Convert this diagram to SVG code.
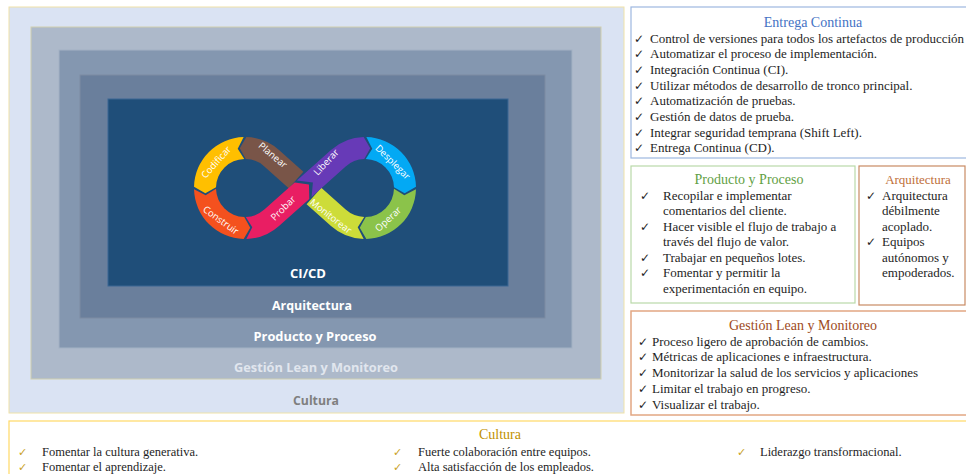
<svg xmlns="http://www.w3.org/2000/svg" width="966" height="474" viewBox="0 0 966 474">
  <style>
    .layer-label { font-family: "Open Sans", "Liberation Sans", sans-serif; font-weight: 700; font-size: 12.5px; text-anchor: middle; }
    .seg-label { font-family: "Open Sans", "Liberation Sans", sans-serif; font-size: 9.5px; fill: #ffffff; text-anchor: middle; dominant-baseline: central; }
    .txt { font-family: "Liberation Serif", "Times New Roman", serif; font-size: 13px; fill: #1e1e1e; }
    .title { font-family: "Liberation Serif", "Times New Roman", serif; font-size: 14px; text-anchor: middle; }
    .chk { font-family: "DejaVu Sans", sans-serif; font-size: 12px; fill: #1e1e1e; }
    .chk-gold { font-family: "DejaVu Sans", sans-serif; font-size: 11px; fill: #c9a227; }
    .foot { font-family: "Liberation Serif", "Times New Roman", serif; font-size: 12.5px; fill: #1e1e1e; }
  </style>

  <rect width="966" height="474" fill="#ffffff"/>

  <!-- Nested capability layers -->
  <g id="layer-cultura">
    <rect x="9" y="7" width="615" height="406" fill="#dae3f3" stroke="#efe2a8" stroke-width="1"/>
    <text class="layer-label" x="316" y="404.5" fill="#7f7f7f" textLength="46" lengthAdjust="spacingAndGlyphs">Cultura</text>
  </g>
  <g id="layer-gestion">
    <rect x="31" y="27" width="570" height="352" fill="#adb9ca" stroke="#cfcfb0" stroke-width="1"/>
    <text class="layer-label" x="316" y="371.5" fill="#e1e6ee" textLength="164" lengthAdjust="spacingAndGlyphs">Gestión Lean y Monitoreo</text>
  </g>
  <g id="layer-producto">
    <rect x="59" y="50" width="513" height="298" fill="#8497b0" stroke="#a3b2c4" stroke-width="1"/>
    <text class="layer-label" x="315" y="340.5" fill="#ffffff" textLength="123" lengthAdjust="spacingAndGlyphs">Producto y Proceso</text>
  </g>
  <g id="layer-arquitectura">
    <rect x="80" y="75" width="465" height="243" fill="#6a7f9c" stroke="#7d8ca2" stroke-width="1"/>
    <text class="layer-label" x="312" y="309.5" fill="#ffffff" textLength="80" lengthAdjust="spacingAndGlyphs">Arquitectura</text>
  </g>
  <g id="layer-cicd">
    <rect x="108" y="99" width="400" height="187" fill="#1f4e79" stroke="#3a6794" stroke-width="1"/>
    <text class="layer-label" x="308" y="277.5" fill="#ffffff" textLength="36" lengthAdjust="spacingAndGlyphs">CI/CD</text>
  </g>

  <!-- DevOps infinity loop: eight chevron segments -->
  <g id="devops-loop">
    <g id="seg-planear">
      <path d="M303.39,171.80 L279.0,149.99 A51,51 0 0 0 246.34,137.02 L239.78,148.34 L245.76,159.01 A29,29 0 0 1 264.33,166.38 L288.72,188.20 Z" fill="#795548"/>
      <text class="seg-label" transform="translate(273,155) rotate(40)">Planear</text>
    </g>
    <g id="seg-monitorear">
      <path d="M363.66,238.98 A51,51 0 0 1 331.0,226.01 L306.61,204.20 L321.27,187.80 L345.67,209.62 A29,29 0 0 0 364.24,216.99 L357.71,227.33 Z" fill="#cddc39"/>
      <text class="seg-label" transform="translate(331,216) rotate(38)">Monitorear</text>
    </g>
    <g id="seg-codificar">
      <path d="M243.66,137.02 A51,51 0 0 0 194.02,186.66 L205.34,193.22 L216.01,187.24 A29,29 0 0 1 244.24,159.01 L237.71,148.67 Z" fill="#ffbf00"/>
      <text class="seg-label" transform="translate(216,162) rotate(-48)">Codificar</text>
    </g>
    <g id="seg-construir">
      <path d="M194.02,189.34 A51,51 0 0 0 243.66,238.98 L250.22,227.66 L244.24,216.99 A29,29 0 0 1 216.01,188.76 L205.67,195.29 Z" fill="#f4511e"/>
      <text class="seg-label" transform="translate(221,220) rotate(36)">Construir</text>
    </g>
    <g id="seg-desplegar">
      <path d="M366.34,137.02 A51,51 0 0 1 415.98,186.66 L404.66,193.22 L393.99,187.24 A29,29 0 0 0 365.76,159.01 L372.29,148.67 Z" fill="#03a9f4"/>
      <text class="seg-label" transform="translate(393,162) rotate(45)">Desplegar</text>
    </g>
    <g id="seg-operar">
      <path d="M415.98,189.34 A51,51 0 0 1 366.34,238.98 L359.78,227.66 L365.76,216.99 A29,29 0 0 0 393.99,188.76 L404.33,195.29 Z" fill="#8bc34a"/>
      <text class="seg-label" transform="translate(388,219) rotate(-43)">Operar</text>
    </g>
    <g id="seg-probar">
      <path d="M246.34,238.98 A51,51 0 0 0 279.0,226.01 L309.31,198.90 L308.94,184.47 L294.65,182.50 L264.33,209.62 A29,29 0 0 1 245.76,216.99 L252.29,227.33 Z" fill="#e91e63"/>
      <text class="seg-label" transform="translate(283,208) rotate(-45)">Probar</text>
    </g>
    <g id="seg-liberar">
      <path d="M296.89,180.50 L331.0,149.99 A51,51 0 0 1 363.66,137.02 L370.22,148.34 L364.24,159.01 A29,29 0 0 0 345.67,166.38 L311.55,196.90 L312.91,182.48 Z" fill="#673ab7"/>
      <text class="seg-label" transform="translate(326,162) rotate(-47)">Liberar</text>
    </g>
  </g>

  <!-- Entrega Continua panel -->
  <g id="panel-entrega">
    <rect x="631" y="7" width="345" height="151" fill="#ffffff" stroke="#9db7e0" stroke-width="1.2"/>
    <text class="title" x="813" y="26.5" fill="#4472c4">Entrega Continua</text>
    <text class="chk" x="634" y="42.5">✓</text><text class="txt" x="650" y="42.5">Control de versiones para todos los artefactos de producción</text>
    <text class="chk" x="634" y="58.2">✓</text><text class="txt" x="650" y="58.2">Automatizar el proceso de implementación.</text>
    <text class="chk" x="634" y="73.9">✓</text><text class="txt" x="650" y="73.9">Integración Continua (CI).</text>
    <text class="chk" x="634" y="89.6">✓</text><text class="txt" x="650" y="89.6">Utilizar métodos de desarrollo de tronco principal.</text>
    <text class="chk" x="634" y="105.3">✓</text><text class="txt" x="650" y="105.3">Automatización de pruebas.</text>
    <text class="chk" x="634" y="121">✓</text><text class="txt" x="650" y="121">Gestión de datos de prueba.</text>
    <text class="chk" x="634" y="136.7">✓</text><text class="txt" x="650" y="136.7">Integrar seguridad temprana (Shift Left).</text>
    <text class="chk" x="634" y="152.4">✓</text><text class="txt" x="650" y="152.4">Entrega Continua (CD).</text>
  </g>

  <!-- Producto y Proceso panel -->
  <g id="panel-producto">
    <rect x="631" y="166" width="224" height="137" fill="#ffffff" stroke="#b9d9a9" stroke-width="1.2"/>
    <text class="title" x="749" y="184" fill="#62a044">Producto y Proceso</text>
    <text class="chk" x="640" y="199.5">✓</text><text class="txt" x="663" y="199.5">Recopilar e implementar</text>
    <text class="txt" x="663" y="215">comentarios del cliente.</text>
    <text class="chk" x="640" y="230.5">✓</text><text class="txt" x="663" y="230.5">Hacer visible el flujo de trabajo a</text>
    <text class="txt" x="663" y="246">través del flujo de valor.</text>
    <text class="chk" x="640" y="261.5">✓</text><text class="txt" x="663" y="261.5">Trabajar en pequeños lotes.</text>
    <text class="chk" x="640" y="277">✓</text><text class="txt" x="663" y="277">Fomentar y permitir la</text>
    <text class="txt" x="663" y="292.5">experimentación en equipo.</text>
  </g>

  <!-- Arquitectura panel -->
  <g id="panel-arquitectura">
    <rect x="859" y="166" width="106" height="139" fill="#ffffff" stroke="#c98a63" stroke-width="1.2"/>
    <text class="title" x="918" y="183.5" fill="#c0703a" style="font-size:13px">Arquitectura</text>
    <text class="chk" x="866" y="199.5">✓</text><text class="txt" x="882" y="199.5">Arquitectura</text>
    <text class="txt" x="882" y="215">débilmente</text>
    <text class="txt" x="882" y="230.5">acoplado.</text>
    <text class="chk" x="866" y="246">✓</text><text class="txt" x="882" y="246">Equipos</text>
    <text class="txt" x="882" y="261.5">autónomos y</text>
    <text class="txt" x="882" y="277">empoderados.</text>
  </g>

  <!-- Gestión Lean y Monitoreo panel -->
  <g id="panel-gestion">
    <rect x="631" y="311" width="345" height="104" fill="#ffffff" stroke="#e2a783" stroke-width="1.5"/>
    <text class="title" x="803" y="330" fill="#9e4a1c">Gestión Lean y Monitoreo</text>
    <text class="chk" x="638" y="345.5">✓</text><text class="txt" x="652" y="345.5">Proceso ligero de aprobación de cambios.</text>
    <text class="chk" x="638" y="361.3">✓</text><text class="txt" x="652" y="361.3">Métricas de aplicaciones e infraestructura.</text>
    <text class="chk" x="638" y="377.1">✓</text><text class="txt" x="652" y="377.1">Monitorizar la salud de los servicios y aplicaciones</text>
    <text class="chk" x="638" y="392.9">✓</text><text class="txt" x="652" y="392.9">Limitar el trabajo en progreso.</text>
    <text class="chk" x="638" y="408.7">✓</text><text class="txt" x="652" y="408.7">Visualizar el trabajo.</text>
  </g>

  <!-- Cultura panel -->
  <g id="panel-cultura">
    <rect x="9" y="421" width="967" height="60" fill="#ffffff" stroke="#ffd966" stroke-width="1.2"/>
    <text class="title" x="500" y="439" fill="#bf9000">Cultura</text>
    <text class="chk-gold" x="18" y="456">✓</text><text class="foot" x="42" y="456">Fomentar la cultura generativa.</text>
    <text class="chk-gold" x="18" y="471">✓</text><text class="foot" x="42" y="471">Fomentar el aprendizaje.</text>
    <text class="chk-gold" x="393" y="456">✓</text><text class="foot" x="418" y="456">Fuerte colaboración entre equipos.</text>
    <text class="chk-gold" x="393" y="471">✓</text><text class="foot" x="418" y="471">Alta satisfacción de los empleados.</text>
    <text class="chk-gold" x="737" y="456">✓</text><text class="foot" x="760" y="456">Liderazgo transformacional.</text>
  </g>
</svg>
